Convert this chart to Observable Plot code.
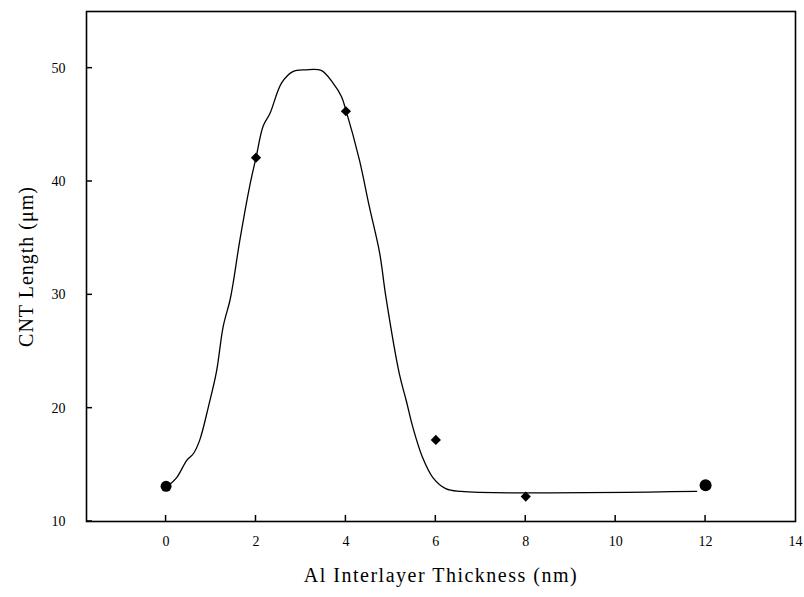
<!DOCTYPE html>
<html>
<head>
<meta charset="utf-8">
<script src="https://cdn.jsdelivr.net/npm/d3@7"></script>
<script src="https://cdn.jsdelivr.net/npm/@observablehq/plot@0.6"></script>
<style>
  html, body { margin: 0; padding: 0; background: #fff; }
  #chart svg { font-family: "Liberation Serif", "DejaVu Serif", serif; }
  g[aria-label="x-axis label"] text { font-size: 20px; letter-spacing: 1.5px; }
  g[aria-label="y-axis label"] text { font-size: 20px; letter-spacing: 1px; }
</style>
</head>
<body>
<div id="chart"></div>
<script>
// Measured points
const thickness = [0, 2, 4, 6, 8, 12];
const cntLength = [13.1, 42.1, 46.2, 17.2, 12.2, 13.2];
const markerShape = ["circle", "diamond2", "diamond2", "diamond2", "diamond2", "circle"];
const markerSize = [5.5, 4.6, 4.6, 4.6, 4.6, 6];

// Fitted curve
const fitX = [0.0, 0.24, 0.46, 0.61, 0.75, 0.94, 1.12, 1.27, 1.42, 1.49, 1.64, 1.86, 2.0, 2.16, 2.31, 2.57, 2.82, 3.1, 3.45, 3.71, 3.9, 4.0, 4.3, 4.52, 4.75, 4.89, 5.19, 5.34, 5.49, 5.7, 5.93, 6.22, 6.56, 11.8];
const fitY = [13.0, 13.9, 15.4, 16.0, 17.2, 20.1, 23.2, 27.2, 29.5, 31.0, 34.8, 39.6, 42.1, 44.9, 46.0, 48.7, 49.7, 49.85, 49.8, 48.7, 47.5, 46.3, 41.9, 37.8, 33.7, 29.8, 23.0, 20.7, 18.3, 15.7, 13.9, 12.9, 12.65, 12.65];

const xTicks = [0, 2, 4, 6, 8, 10, 12, 14];
const yTicks = [10, 20, 30, 40, 50];
const innerTickX = [0, 2, 4, 6, 8, 10, 12];
const innerTickY = [10, 20, 30, 40, 50];

const xDomain = [-1.77, 14];
const yDomain = [10, 55];

const points = thickness.map((x, i) => ({x, y: cntLength[i], shape: markerShape[i], r: markerSize[i]}));
const fit = fitX.map((x, i) => ({x, y: fitY[i]}));

const W = 804, H = 597, mL = 86, mR = 9, mT = 11, mB = 76;
const tickPx = 6;

// Inward tick marks, positioned through Plot's own scales
function innerTicks(index, scales, values, dimensions) {
  const g = d3.create("svg:g").attr("aria-label", "inner ticks")
    .attr("stroke", "#000").attr("stroke-width", 1.5);
  const yBottom = dimensions.height - dimensions.marginBottom;
  const xLeft = dimensions.marginLeft;
  for (const t of innerTickX) {
    const px = scales.x(t);
    g.append("line").attr("x1", px).attr("x2", px).attr("y1", yBottom).attr("y2", yBottom - tickPx);
  }
  for (const t of innerTickY) {
    const py = scales.y(t);
    g.append("line").attr("x1", xLeft).attr("x2", xLeft + tickPx).attr("y1", py).attr("y2", py);
  }
  return g.node();
}

const chart = Plot.plot({
  width: W,
  height: H,
  marginLeft: mL,
  marginRight: mR,
  marginTop: mT,
  marginBottom: mB,
  style: {fontFamily: '"Liberation Serif", serif', fontSize: "14px", color: "#000", background: "#fff"},
  x: {domain: xDomain},
  y: {domain: yDomain},
  symbol: {type: "identity"},
  r: {type: "identity"},
  marks: [
    Plot.frame({stroke: "#000", fill: "none", strokeWidth: 1.6}),
    Plot.axisX(xTicks, {tickSize: 0, tickPadding: 15, fontSize: 14, label: "Al Interlayer Thickness (nm)", labelAnchor: "center", labelArrow: "none", labelOffset: 60, fill: "#000"}),
    Plot.axisY(yTicks, {tickSize: 0, tickPadding: 21, fontSize: 14, label: "CNT Length (μm)", labelAnchor: "center", labelArrow: "none", labelOffset: 68, fill: "#000"}),
    innerTicks,
    Plot.line(fit, {x: "x", y: "y", curve: "catmull-rom", stroke: "#000", strokeWidth: 1.3}),
    Plot.dot(points, {x: "x", y: "y", symbol: "shape", r: "r", fill: "#000", stroke: "none"})
  ]
});
document.getElementById("chart").appendChild(chart);
</script>
</body>
</html>
